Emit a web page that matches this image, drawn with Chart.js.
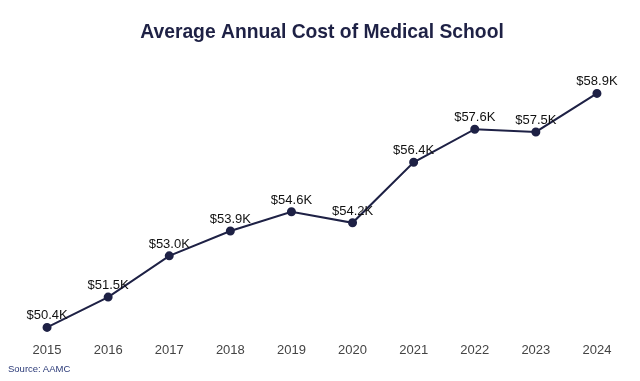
<!DOCTYPE html>
<html>
<head>
<meta charset="utf-8">
<script src="https://cdn.jsdelivr.net/npm/chart.js@4/dist/chart.umd.min.js"></script>
<style>
    body { margin: 0; background: #fff; }
    #wrap { position: relative; width: 640px; height: 381px; }
    #source {
        position: absolute; left: 8px; top: 363px;
        font: 9.5px "Liberation Sans", Arial, sans-serif; color: #2b3a78;
    }
</style>
</head>
<body>
<div id="wrap">
    <canvas id="costChart"></canvas>
    <div id="source">Source: AAMC</div>
</div>
<script>
// Average annual cost of medical school, thousands of USD (AAMC)
const years = ['2015', '2016', '2017', '2018', '2019', '2020', '2021', '2022', '2023', '2024'];
const costK = [50.4, 51.5, 53.0, 53.9, 54.6, 54.2, 56.4, 57.6, 57.5, 58.9];

const navy = '#1e2145';

// draws the "$xx.xK" label above each point
const pointLabels = {
    id: 'pointLabels',
    afterDatasetsDraw(chart) {
        const ctx = chart.ctx;
        const meta = chart.getDatasetMeta(0);
        ctx.save();
        ctx.font = '13px "Liberation Sans", Arial, sans-serif';
        ctx.fillStyle = '#111';
        ctx.textAlign = 'center';
        ctx.textBaseline = 'alphabetic';
        meta.data.forEach((pt, i) => {
            ctx.fillText('$' + costK[i].toFixed(1) + 'K', pt.x, pt.y - 8);
        });
        ctx.restore();
    }
};

new Chart(document.getElementById('costChart'), {
    type: 'line',
    data: {
        labels: years,
        datasets: [{
            data: costK,
            borderColor: navy,
            backgroundColor: navy,
            borderWidth: 2,
            pointRadius: 3.5,
            pointBackgroundColor: navy,
            tension: 0
        }]
    },
    options: {
        responsive: true,
        maintainAspectRatio: false,
        animation: false,
        layout: { padding: { left: 16.5, right: 12.5, bottom: 19 } },
        plugins: {
            legend: { display: false },
            tooltip: { enabled: false },
            title: {
                display: true,
                text: 'Average Annual Cost of Medical School',
                color: navy,
                font: { family: '"Liberation Sans", Arial, sans-serif', size: 19.3, weight: 'bold' },
                padding: { top: 21, bottom: 19 }
            }
        },
        scales: {
            x: {
                offset: true,
                grid: { display: false, drawTicks: false },
                border: { display: false },
                ticks: {
                    color: '#444',
                    padding: 4,
                    font: { family: '"Liberation Sans", Arial, sans-serif', size: 13 }
                }
            },
            y: {
                display: false,
                min: 50,
                max: 60
            }
        }
    },
    plugins: [pointLabels]
});
</script>
</body>
</html>
